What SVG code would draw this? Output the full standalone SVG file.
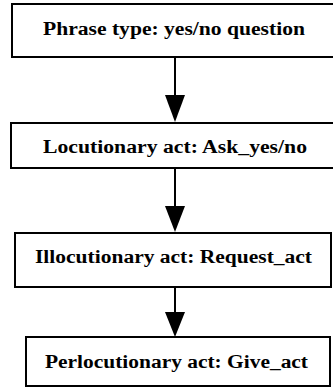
<svg xmlns="http://www.w3.org/2000/svg" width="333" height="388" viewBox="0 0 333 388">
<style>
.box{fill:#fff;stroke:#000;stroke-width:2}
.lbl{font-family:"Liberation Serif","Times New Roman",serif;font-weight:bold;font-size:18.5px;fill:#000;text-anchor:middle}
.edge{stroke:#000;stroke-width:2;fill:none}
.head{fill:#000}
</style>
<g id="connectors">
<line class="edge" x1="175" y1="57" x2="175" y2="95"/>
<path class="head" d="M165,95 L185,95 L175,122 Z"/>
<line class="edge" x1="175" y1="168" x2="175" y2="206"/>
<path class="head" d="M165,206 L185,206 L175,232 Z"/>
<line class="edge" x1="175" y1="287" x2="175" y2="312"/>
<path class="head" d="M165,312 L185,312 L175,337 Z"/>
</g>
<g id="node1">
<rect class="box" x="12" y="4" width="325" height="53"/>
<text class="lbl" x="174" y="35" textLength="262" lengthAdjust="spacingAndGlyphs">Phrase type: yes/no question</text>
</g>
<g id="node2">
<rect class="box" x="11" y="123" width="326" height="45"/>
<text class="lbl" x="175" y="153" textLength="264" lengthAdjust="spacingAndGlyphs">Locutionary act: Ask_yes/no</text>
</g>
<g id="node3">
<rect class="box" x="15" y="233" width="316" height="54"/>
<text class="lbl" x="173.5" y="263" textLength="277" lengthAdjust="spacingAndGlyphs">Illocutionary act: Request_act</text>
</g>
<g id="node4">
<rect class="box" x="26" y="337" width="304" height="49"/>
<text class="lbl" x="176.5" y="368" textLength="263" lengthAdjust="spacingAndGlyphs">Perlocutionary act: Give_act</text>
</g>
</svg>
